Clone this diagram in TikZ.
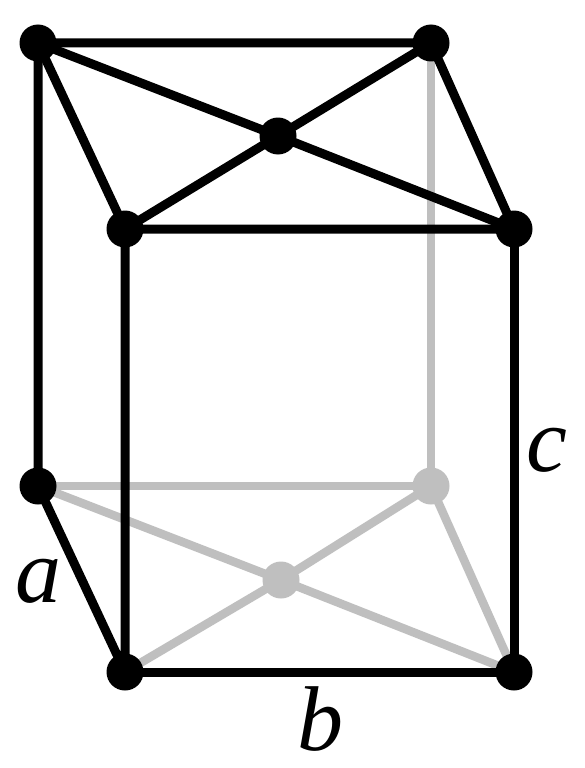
\documentclass[tikz,border=0pt]{standalone}
\usepackage{fontspec}
\setmainfont{Liberation Serif}
\begin{document}
\begin{tikzpicture}[x=1pt,y=-1pt,line join=round,
 blk/.style={line width=9pt,draw=black},
 gry/.style={line width=8.5pt,draw=black!25},
 bdot/.style={circle,fill=black,inner sep=0pt,minimum size=37pt},
 gdot/.style={circle,fill=black!25,inner sep=0pt,minimum size=37pt},
 lab/.style={font=\fontsize{92}{94}\selectfont\itshape,inner sep=0pt,anchor=base}]
\useasboundingbox (0,0) rectangle (584,768);
\fill[white] (0,0) rectangle (584,768);
\coordinate (A) at (38,43);\coordinate (B) at (431,43);\coordinate (C) at (125,229);\coordinate (D) at (514,229);\coordinate (E) at (278,136);
\coordinate (F) at (38,486);\coordinate (G) at (431,486);\coordinate (H) at (125,672);\coordinate (J) at (514,672);\coordinate (K) at (281,580);
\draw[gry] (B)--(G);
\draw[gry] (F)--(G);
\draw[gry] (F)--(K)--(J);
\draw[gry] (H)--(K)--(G)--(J);
\draw[blk] (A)--(B)--(D)--(C)--cycle;
\draw[blk] (A)--(E)--(D);
\draw[blk] (C)--(E)--(B);
\draw[blk] (A)--(F)--(H)--(C);
\draw[blk] (H)--(J)--(D);
\node[bdot] (a) at (A){};\node[bdot] (b) at (B){};\node[bdot] (c) at (C){};\node[bdot] (d) at (D){};\node[bdot] (e) at (E){};
\node[bdot] (f) at (F){};\node[gdot] (g) at (G){};\node[bdot] (h) at (H){};\node[bdot] (j) at (J){};\node[gdot] (k) at (K){};
\node[lab] (la) at (38,602){a};
\node[lab] (lb) at (320,750){b};
\node[lab] (lc) at (547,471){c};
\end{tikzpicture}
\end{document}
